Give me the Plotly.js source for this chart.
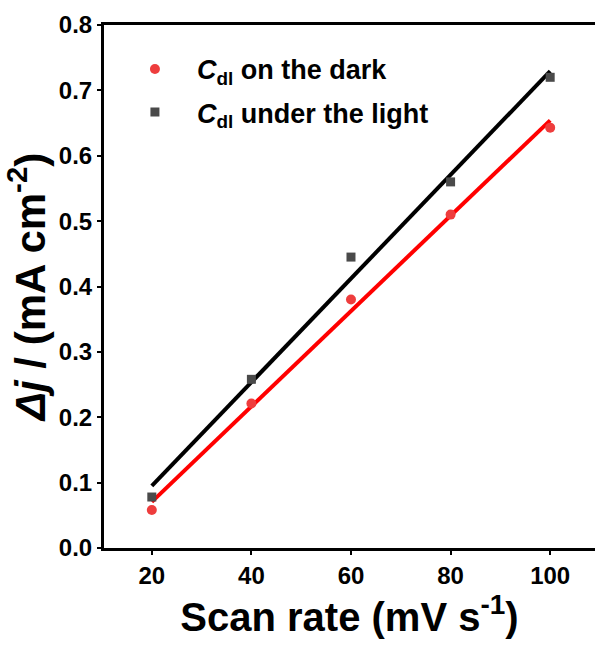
<!DOCTYPE html>
<html>
<head>
<meta charset="utf-8">
<script src="https://cdn.plot.ly/plotly-3.0.1.min.js"></script>
<style>html,body{margin:0;padding:0;background:#fff;}#chart{width:595px;height:646px;}</style>
</head>
<body>
<div id="chart"></div>
<script>
const scanRate = [20, 40, 60, 80, 100];
const darkValues = [0.058, 0.221, 0.380, 0.510, 0.643];
const lightValues = [0.078, 0.258, 0.445, 0.560, 0.720];
const darkName = '<i>C</i><sub>dl</sub> on the dark';
const lightName = '<i>C</i><sub>dl</sub> under the light';
const yTickVals = [0.0, 0.1, 0.2, 0.3, 0.4, 0.5, 0.6, 0.7, 0.8];
const yTickText = ['0.0', '0.1', '0.2', '0.3', '0.4', '0.5', '0.6', '0.7', '0.8'];
const xTickVals = [20, 40, 60, 80, 100];

function linFit(xs, ys) {
  const n = xs.length;
  const mx = xs.reduce((a, b) => a + b, 0) / n;
  const my = ys.reduce((a, b) => a + b, 0) / n;
  let sxy = 0, sxx = 0;
  for (let i = 0; i < n; i++) { sxy += (xs[i] - mx) * (ys[i] - my); sxx += (xs[i] - mx) ** 2; }
  const k = sxy / sxx, b = my - k * mx;
  const ends = [xs[0], xs[n - 1]];
  return { x: ends, y: ends.map(v => k * v + b) };
}
const darkFit = linFit(scanRate, darkValues);
const lightFit = linFit(scanRate, lightValues);

const FONT = 'Liberation Sans, Arial, Helvetica, sans-serif';

const traces = [
  { x: darkFit.x, y: darkFit.y, mode: 'lines', line: { color: '#ff0000', width: 4 }, showlegend: false, hoverinfo: 'skip' },
  { x: lightFit.x, y: lightFit.y, mode: 'lines', line: { color: '#000000', width: 4 }, showlegend: false, hoverinfo: 'skip' },
  { x: scanRate, y: darkValues, mode: 'markers', name: darkName, legendgroup: 'a',
    marker: { symbol: 'circle', size: 10, color: '#ee3d3d' } },
  { x: scanRate, y: lightValues, mode: 'markers', name: lightName, legendgroup: 'b',
    marker: { symbol: 'square', size: 9, color: '#4a4a4a' } }
];

const layout = {
  width: 595, height: 646,
  margin: { l: 104, r: 0, t: 25, b: 98 },
  paper_bgcolor: '#ffffff', plot_bgcolor: '#ffffff',
  font: { family: FONT, color: '#000', weight: 'bold' },
  showlegend: true,
  legend: {
    x: 0.0182, y: 0.962, xanchor: 'left', yanchor: 'top',
    bgcolor: 'rgba(0,0,0,0)', borderwidth: 0,
    itemwidth: 74,
    font: { family: FONT, size: 27, color: '#000', weight: 'bold' },
    traceorder: 'grouped', tracegroupgap: 5
  },
  xaxis: {
    range: [10.4, 109], tickvals: xTickVals, ticktext: xTickVals.map(String),
    showgrid: false, zeroline: false,
    showline: true, linecolor: '#000', linewidth: 3, mirror: true,
    ticks: 'outside', ticklen: 4, tickwidth: 2, tickcolor: '#000',
    tickfont: { family: FONT, size: 24, color: '#000', weight: 'bold' },
    title: { text: 'Scan rate (mV s<sup>-1</sup>)', font: { family: FONT, size: 40, color: '#000', weight: 'bold' }, standoff: 14 }
  },
  yaxis: {
    range: [0, 0.8], tickvals: yTickVals, ticktext: yTickText,
    showgrid: false, zeroline: false,
    showline: true, linecolor: '#000', linewidth: 3,
    ticks: 'outside', ticklen: 4, tickwidth: 2, tickcolor: '#000',
    tickfont: { family: FONT, size: 24, color: '#000', weight: 'bold' },
    title: { text: '<i>Δj</i> / (mA cm<sup>-2</sup>)', font: { family: FONT, size: 42, color: '#000', weight: 'bold' }, standoff: 8 }
  }
};

Plotly.newPlot('chart', traces, layout, { displayModeBar: false, staticPlot: true });
</script>
</body>
</html>
